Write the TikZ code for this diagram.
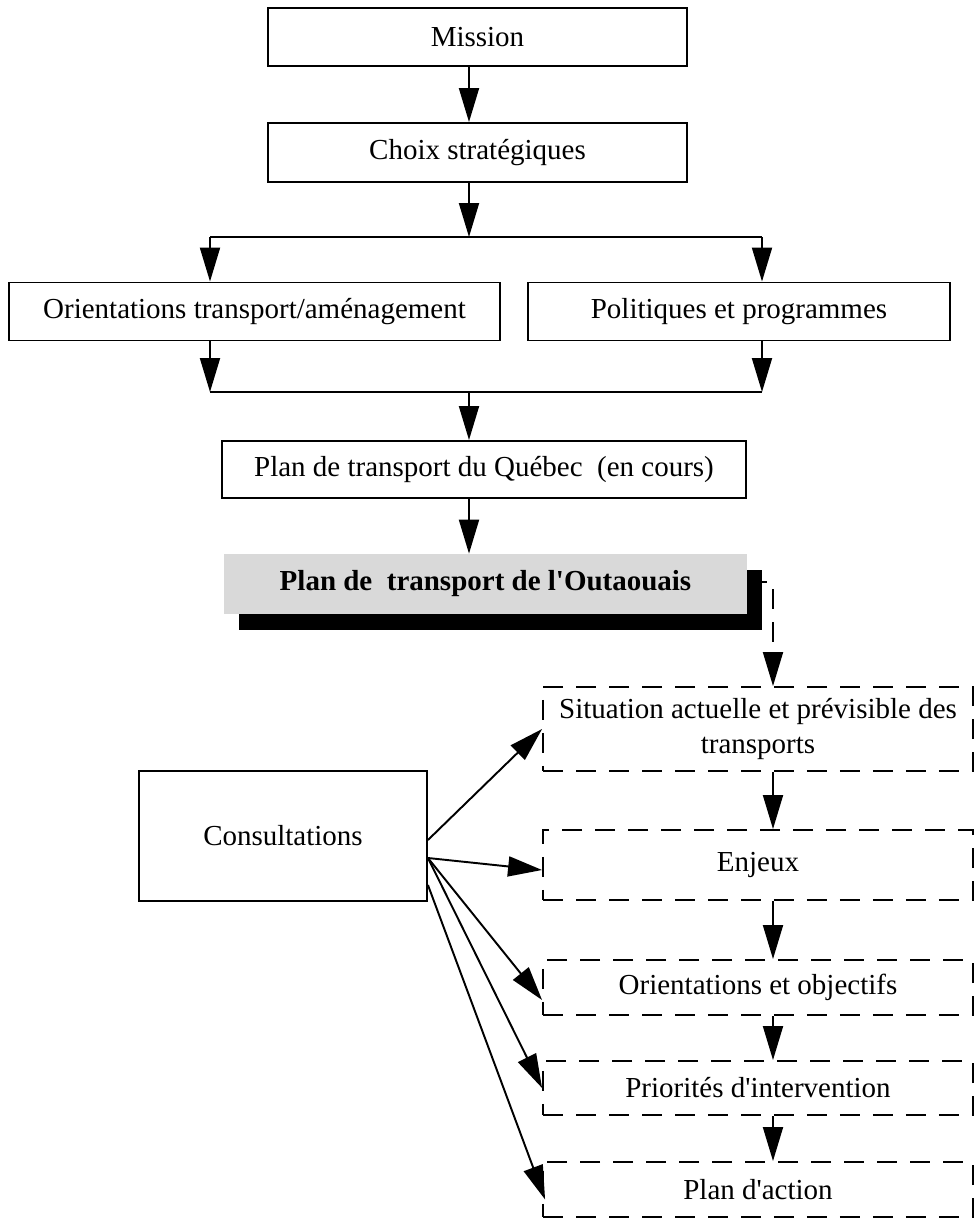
\documentclass[tikz,border=0pt]{standalone}
\usepackage{fontspec}
\setmainfont{Liberation Serif}
\usetikzlibrary{arrows.meta, shadows}
\definecolor{boxgray}{gray}{0.85}
\tikzstyle{rect} = [rectangle, draw=black, line width=1.1pt, inner sep=0pt, text centered]
\tikzstyle{dashrect} = [rectangle, draw=black, line width=1.1pt, dash pattern=on 0.4cm off 0.26cm, inner sep=0pt, align=center]
\tikzstyle{shaded} = [rectangle, fill=boxgray, inner sep=0pt, text centered, drop shadow={shadow xshift=0.3cm, shadow yshift=-0.32cm, fill=black, opacity=1}]
\tikzstyle{arrow} = [line width=1.1pt,-{Triangle[length=0.68cm,width=0.4cm]}]
\tikzstyle{dasharrow} = [arrow, dash pattern=on 0.4cm off 0.26cm]
\tikzstyle{line} = [line width=1.1pt]

\begin{document}
\begin{tikzpicture}[x=0.02cm, y=-0.02cm, every node/.style={font=\fontsize{16.5}{20}\selectfont}]
        \useasboundingbox (0,0) rectangle (974,1218);
        \coordinate (axis) at (469,0);
        \coordinate (chain) at (773,0);

        \node (mission) [rect, minimum width=8.38cm, minimum height=1.16cm] at (477.5,37) {Mission};
        \node (choix) [rect, minimum width=8.38cm, minimum height=1.18cm] at (477.5,152.5) {Choix stratégiques};
        \draw [arrow] (mission.south -| axis) -- (choix.north -| axis);

        \node (orient) [rect, minimum width=9.82cm, minimum height=1.16cm] at (254.5,311.5) {Orientations transport/aménagement};
        \node (polit) [rect, minimum width=8.44cm, minimum height=1.16cm] at (739,311.5) {Politiques et programmes};

        \coordinate (split1) at (469,237);
        \coordinate (split1l) at (210,237);
        \coordinate (split1r) at (762,237);
        \draw [arrow] (choix.south -| axis) -- (split1);
        \draw [line] (split1l) -- (split1r);
        \draw [arrow] (split1l) -- (orient.north -| split1l);
        \draw [arrow] (split1r) -- (polit.north -| split1r);

        \coordinate (split2l) at (210,392);
        \coordinate (split2r) at (762,392);
        \draw [arrow] (orient.south -| split2l) -- (split2l);
        \draw [arrow] (polit.south -| split2r) -- (split2r);
        \draw [line] (split2l) -- (split2r);

        \node (quebec) [rect, minimum width=10.48cm, minimum height=1.14cm] at (484,469.5) {Plan de transport du Québec~~(en cours)};
        \draw [arrow] (split2l -| axis) -- (quebec.north -| axis);

        \node (outaouais) [shaded, minimum width=10.46cm, minimum height=1.2cm] at (485.5,584) {\textbf{Plan de~~transport de l\textquotesingle Outaouais}};
        \draw [arrow] (quebec.south -| axis) -- (outaouais.north -| axis);

        % dashed chain on the right
        \node (situation) [dashrect, minimum width=8.6cm, minimum height=1.68cm] at (758,729) {Situation actuelle et prévisible des\\transports};
        \node (enjeux) [dashrect, minimum width=8.6cm, minimum height=1.4cm] at (758,865) {Enjeux};
        \node (objectifs) [dashrect, minimum width=8.6cm, minimum height=1.1cm] at (758,987.5) {Orientations et objectifs};
        \node (priorites) [dashrect, minimum width=8.6cm, minimum height=1.08cm] at (758,1088) {Priorités d\textquotesingle intervention};
        \node (action) [dashrect, minimum width=8.6cm, minimum height=1.1cm] at (758,1189.5) {Plan d\textquotesingle action};

        \coordinate (elbow) at (773,582);
        \draw [dasharrow] (outaouais.east |- elbow) -- (elbow) -- (situation.north -| chain);
        \draw [arrow] (situation.south -| chain) -- (enjeux.north -| chain);
        \draw [arrow] (enjeux.south -| chain) -- (objectifs.north -| chain);
        \draw [arrow] (objectifs.south -| chain) -- (priorites.north -| chain);
        \draw [arrow] (priorites.south -| chain) -- (action.north -| chain);

        \node (consult) [rect, minimum width=5.76cm, minimum height=2.6cm] at (283,836) {Consultations};
        \draw [arrow] ([yshift=-0.08cm]consult.east) -- (situation.west);
        \draw [arrow] ([yshift=-0.44cm]consult.east) -- ([yshift=-0.1cm]enjeux.west);
        \draw [arrow] ([yshift=-0.44cm]consult.east) -- ([yshift=-0.25cm]objectifs.west);
        \draw [arrow] ([yshift=-0.44cm]consult.east) -- (priorites.west);
        \draw [arrow] ([yshift=-0.98cm]consult.east) -- ([xshift=0.06cm,yshift=-0.2cm]action.west);
\end{tikzpicture}
\end{document}
